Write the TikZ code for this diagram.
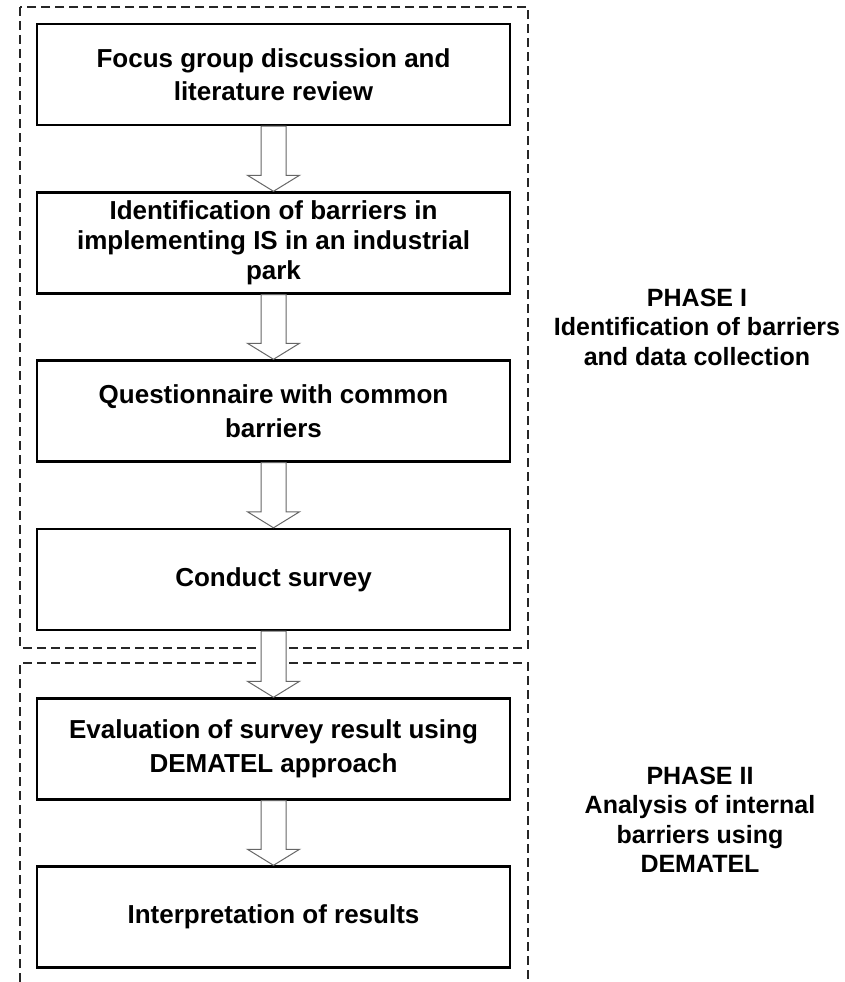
\documentclass[tikz,border=0pt]{standalone}
\usepackage{fontspec}
\setmainfont{Liberation Sans}
\usetikzlibrary{calc}
\begin{document}
\begin{tikzpicture}[x=1pt,y=-1pt,
  stepbox/.style={draw=black, line width=2.4pt, minimum width=473pt,
    minimum height=101pt, align=center, inner sep=0pt,
    font=\fontsize{26}{33.5}\selectfont\bfseries},
  tightbox/.style={stepbox, font=\fontsize{26}{30}\selectfont\bfseries},
  phase/.style={align=center, font=\fontsize{25}{29.5}\selectfont\bfseries},
  frame/.style={dash pattern=on 9pt off 5pt, line width=1.1pt, black!85},
  blockarrow/.style={draw=black!60, line width=1pt, fill=white}]
\useasboundingbox (0,0) rectangle (844,982);

% phase frames
\draw[frame] (20,7) rectangle (528,648);
\draw[frame] (20,982) -- (20,663) -- (528,663) -- (528,982);

% process steps
\node[stepbox] (s1) at (273.5,74.5) {Focus group discussion and\\literature review};
\node[tightbox] (s2) at (273.5,243) {Identification of barriers in\\implementing IS in an industrial\\park};
\node[stepbox] (s3) at (273.5,411) {Questionnaire with common\\barriers};
\node[stepbox] (s4) at (273.5,579.5) {Conduct survey};
\node[stepbox] (s5) at (273.5,749) {Evaluation of survey result using\\DEMATEL approach};
\node[stepbox] (s6) at (273.5,917) {Interpretation of results};

% hollow block arrows between consecutive steps
\foreach \a/\b in {s1/s2,s2/s3,s3/s4,s4/s5,s5/s6}{
  \draw[blockarrow] let \p1=(\a.south), \p2=(\b.north) in
    (\x1-12.5pt,\y1) -- (\x1+12.5pt,\y1) -- (\x1+12.5pt,\y2+16pt)
    -- (\x1+26pt,\y2+16pt) -- (\x1,\y2) -- (\x1-26pt,\y2+16pt)
    -- (\x1-12.5pt,\y2+16pt) -- cycle;
}

% phase labels
\node[phase] (p1) at (697,327) {PHASE I\\Identification of barriers\\and data collection};
\node[phase] (p2) at (700,820) {PHASE II\\Analysis of internal\\barriers using\\DEMATEL};
\end{tikzpicture}
\end{document}
